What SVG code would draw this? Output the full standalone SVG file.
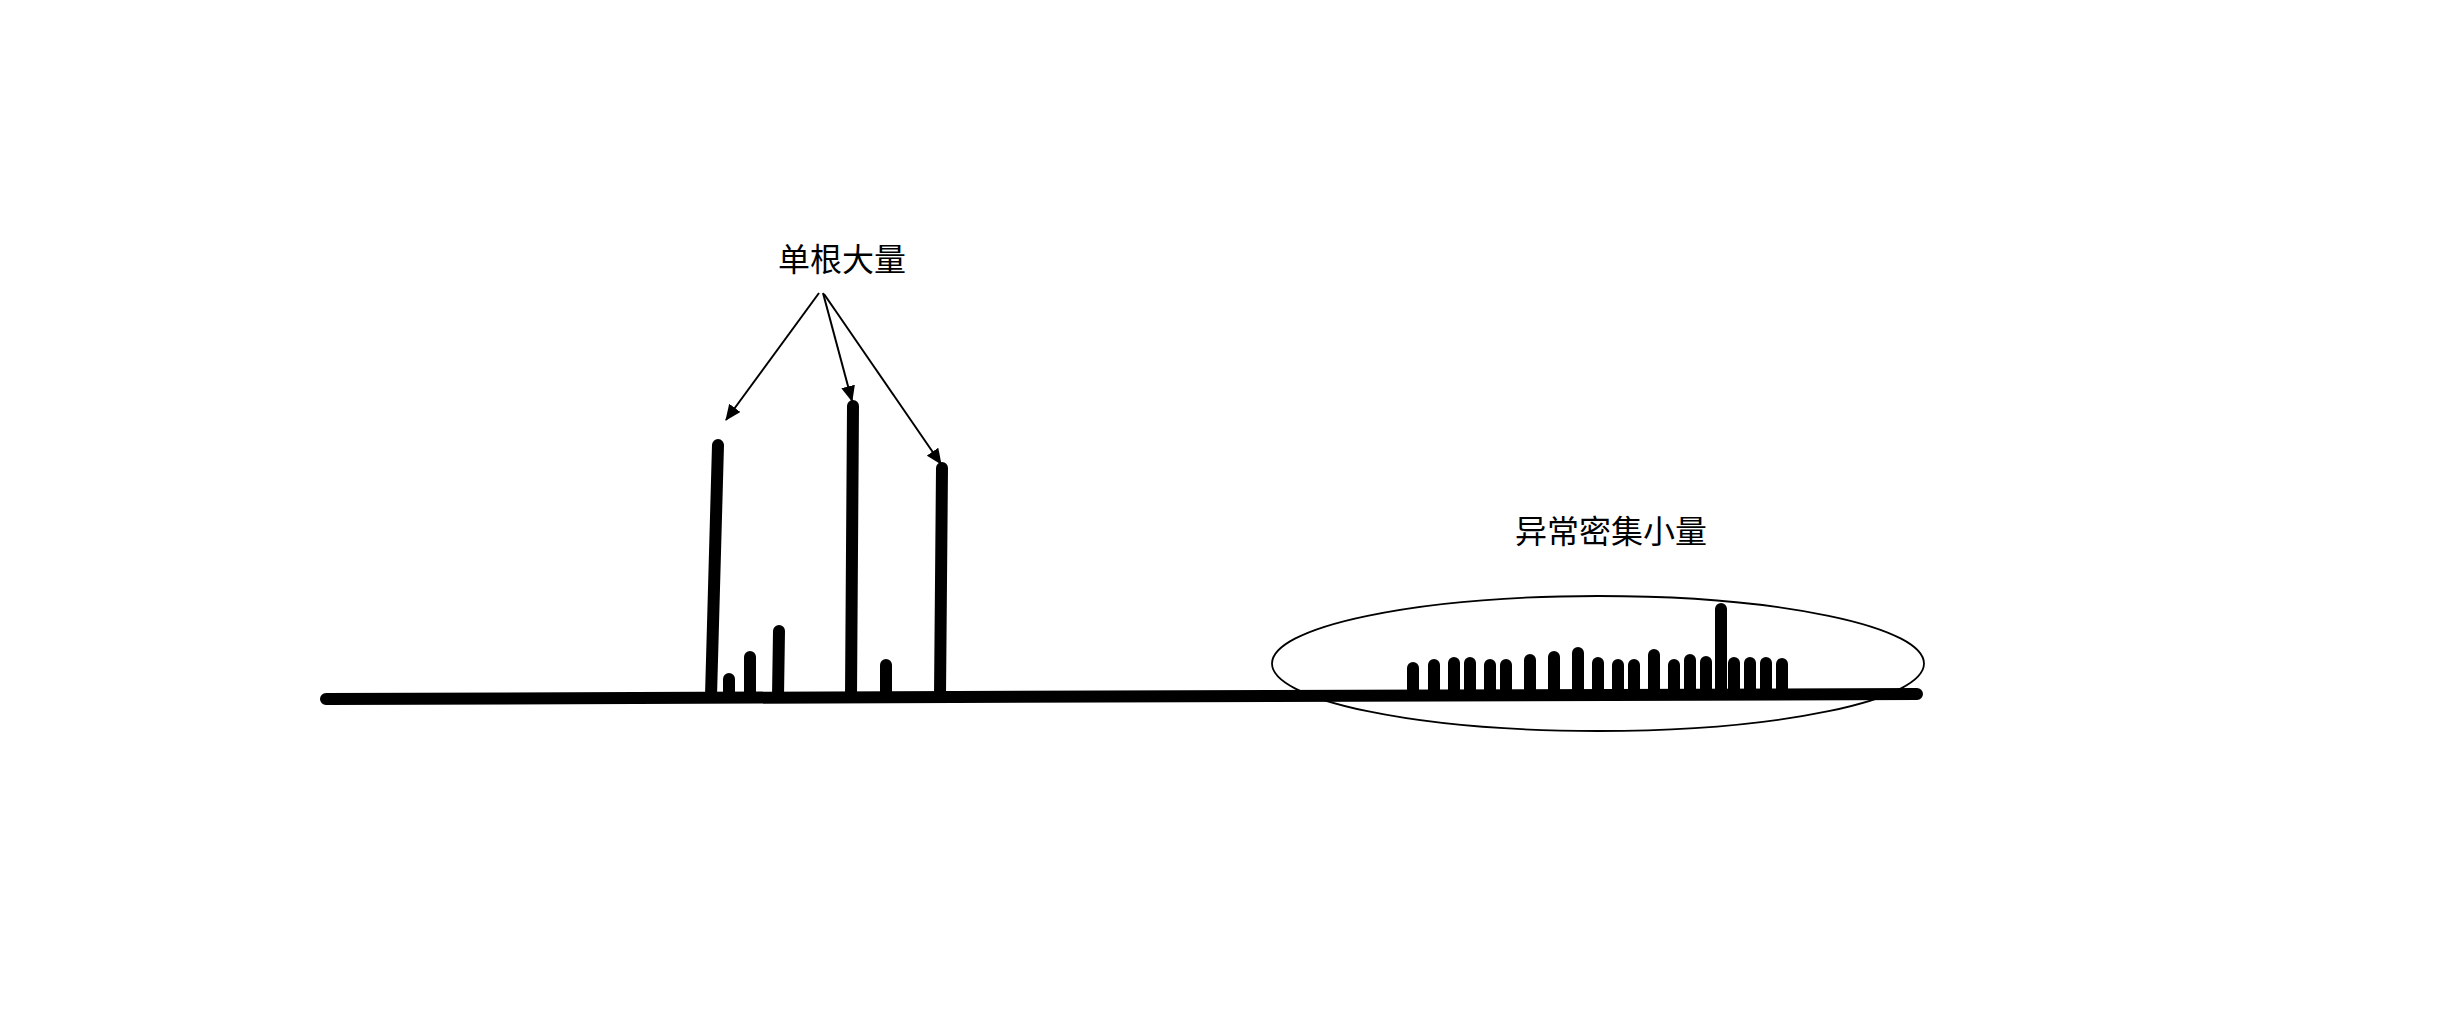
<svg xmlns="http://www.w3.org/2000/svg" width="2448" height="1026" viewBox="0 0 2448 1026">
<style>
.bar{stroke:#000;stroke-width:12;stroke-linecap:round;fill:none}
.base{stroke:#000;stroke-width:12;stroke-linecap:round;fill:none}
.lbl{font-family:"Noto Sans CJK SC","Noto Sans",sans-serif;font-size:32px;fill:#000;text-anchor:middle}
.arr{stroke:#000;stroke-width:2;fill:none;marker-end:url(#ah)}
</style>
<defs>
<marker id="ah" markerWidth="16" markerHeight="14" refX="15" refY="7" orient="auto" markerUnits="userSpaceOnUse">
<path d="M0,0 L16,7 L0,14 Z" fill="#000"/>
</marker>
</defs>
<rect width="2448" height="1026" fill="#fff"/>
<g id="baseline">
<line class="base" x1="326" y1="699" x2="1917" y2="694"/>
</g>
<g id="single-bars">
<line class="bar" x1="718" y1="445" x2="711" y2="696"/>
<line class="bar" x1="729" y1="679" x2="729" y2="696"/>
<line class="bar" x1="750" y1="657" x2="750" y2="696"/>
<line class="bar" x1="779" y1="631" x2="778" y2="696"/>
<line class="bar" x1="853" y1="406" x2="851" y2="696"/>
<line class="bar" x1="886" y1="665" x2="886" y2="696"/>
<line class="bar" x1="942" y1="468" x2="940" y2="696"/>
</g>
<g id="label-single">
<text class="lbl" x="842" y="271">单根大量</text>
</g>
<g id="connectors">
<line class="arr" x1="819" y1="293" x2="726" y2="420"/>
<line class="arr" x1="823" y1="293" x2="852" y2="401"/>
<line class="arr" x1="824" y1="294" x2="941" y2="464"/>
</g>
<g id="dense-bars">
<line class="bar" x1="1413" y1="668" x2="1413" y2="693"/>
<line class="bar" x1="1434" y1="665" x2="1434" y2="693"/>
<line class="bar" x1="1454" y1="663" x2="1454" y2="693"/>
<line class="bar" x1="1470" y1="663" x2="1470" y2="693"/>
<line class="bar" x1="1490" y1="665" x2="1490" y2="693"/>
<line class="bar" x1="1506" y1="665" x2="1506" y2="693"/>
<line class="bar" x1="1530" y1="660" x2="1530" y2="693"/>
<line class="bar" x1="1554" y1="657" x2="1554" y2="693"/>
<line class="bar" x1="1578" y1="653" x2="1578" y2="693"/>
<line class="bar" x1="1598" y1="663" x2="1598" y2="693"/>
<line class="bar" x1="1618" y1="665" x2="1618" y2="693"/>
<line class="bar" x1="1634" y1="665" x2="1634" y2="693"/>
<line class="bar" x1="1654" y1="655" x2="1654" y2="693"/>
<line class="bar" x1="1674" y1="665" x2="1674" y2="693"/>
<line class="bar" x1="1690" y1="660" x2="1690" y2="693"/>
<line class="bar" x1="1706" y1="662" x2="1706" y2="693"/>
<line class="bar" x1="1721" y1="609" x2="1721" y2="693"/>
<line class="bar" x1="1734" y1="663" x2="1734" y2="693"/>
<line class="bar" x1="1750" y1="663" x2="1750" y2="693"/>
<line class="bar" x1="1766" y1="663" x2="1766" y2="693"/>
<line class="bar" x1="1782" y1="664" x2="1782" y2="693"/>
</g>
<g id="dense-ellipse">
<ellipse cx="1598" cy="663.5" rx="326" ry="67.5" fill="none" stroke="#000" stroke-width="1.8"/>
</g>
<g id="label-dense">
<text class="lbl" x="1611" y="543">异常密集小量</text>
</g>
</svg>
